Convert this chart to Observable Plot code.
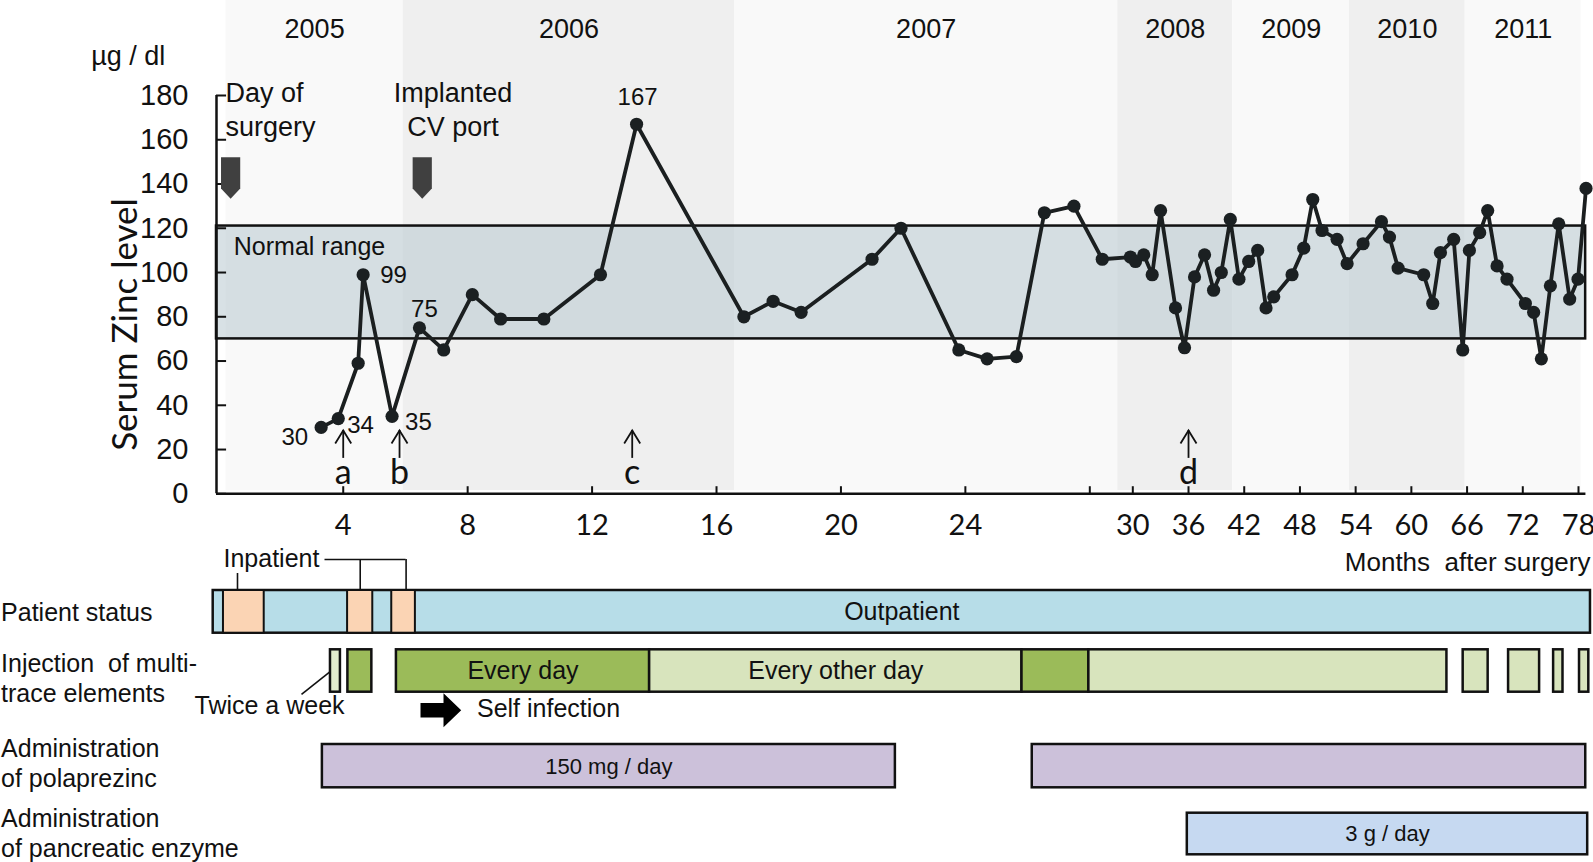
<!DOCTYPE html>
<html>
<head>
<meta charset="utf-8">
<script src="https://cdn.jsdelivr.net/npm/d3@7"></script>
<script src="https://cdn.jsdelivr.net/npm/@observablehq/plot@0.6"></script>
<style>
  html, body { margin: 0; padding: 0; background: #fff; }
  #chart { width: 1593px; }
  #chart svg { display: block; }
</style>
</head>
<body>
<div id="chart"></div>
<script>
// ---------------- data ----------------
// months after surgery of each serum zinc measurement (µg/dl)
const months = [3.29, 3.84, 4.48, 4.64, 5.57, 6.45, 7.23, 8.15, 9.06, 10.45, 12.27, 13.43,
  16.88, 17.82, 18.72, 21.0, 21.93, 23.79, 24.7, 25.64, 26.54, 27.49, 28.58, 29.89,
  30.29, 31.18, 32.09, 32.99, 34.6, 35.57, 36.65, 37.73, 38.7, 39.53, 40.5, 41.43,
  42.48, 43.45, 44.35, 45.18, 47.15, 48.41, 49.38, 50.38, 52.0, 53.08, 54.8, 56.78,
  57.64, 58.57, 61.33, 62.3, 63.13, 64.56, 65.53, 66.25, 67.36, 68.22, 69.23, 70.3,
  72.28, 73.17, 74.0, 74.97, 75.87, 77.05, 77.95, 78.81];
const zinc = [30, 34, 59, 99, 35, 75, 65, 90, 79, 79, 99, 167,
  80, 87, 82, 106, 120, 65, 61, 62, 127, 130, 106, 107,
  105, 108, 99, 128, 84, 66, 98, 108, 92, 100, 124, 97,
  105, 110, 84, 89, 99, 111, 133, 119, 115, 104, 113, 123,
  116, 102, 99, 86, 109, 115, 65, 110, 118, 128, 103, 97,
  86, 82, 61, 94, 122, 88, 97, 138];

const yearLabels = ["2005", "2006", "2007", "2008", "2009", "2010", "2011"];
const yearStart = [0.23, 5.93, 16.58, 29.30, 40.77, 53.34, 65.8];
const yearEnd   = [5.93, 16.58, 29.30, 40.77, 53.34, 65.8, 78.29];

const yTicks = [0, 20, 40, 60, 80, 100, 120, 140, 160, 180];
const xTicks = [4, 8, 12, 16, 20, 24, 28, 30, 36, 42, 48, 54, 60, 66, 72, 78];
const xTickLabels = ["4", "8", "12", "16", "20", "24", "", "30", "36", "42", "48", "54", "60", "66", "72", "78"];

const normalRange = [70, 121];

const eventMonths = [0.38, 6.54];
const eventLabels = ["Day of\nsurgery", "Implanted\nCV port"];

const arrowMonths = [4, 5.81, 13.29, 36];
const arrowLetters = ["a", "b", "c", "d"];

// timeline rows
const statusSpan = [-0.18, 79.29];
const inpatientStart = [0.15, 4.14, 5.56];
const inpatientEnd   = [1.46, 4.95, 6.32];

const injStart = [3.59, 4.15, 5.71, 13.85, 25.82, 27.97, 65.58, 70.47, 75.32, 78.11];
const injEnd   = [3.91, 4.92, 13.85, 25.82, 27.97, 63.83, 68.27, 73.81, 76.33, 79.11];
const injFreq  = ["twice", "daily", "daily", "alternate", "daily", "alternate", "alternate", "alternate", "alternate", "alternate"];
const injLabel = ["", "", "Every day", "Every other day", "", "", "", "", "", ""];

const polaStart = [3.33, 26.15];
const polaEnd   = [21.75, 78.78];
const polaLabel = ["150 mg / day", ""];

const enzStart = [35.87];
const enzEnd   = [78.99];
const enzLabel = ["3 g / day"];

// ---------------- layout & style ----------------
const SANS = "'Liberation Sans', Arial, Helvetica, sans-serif";
const ALT = "Lato, 'Open Sans', sans-serif";
const INK = "#111";
// broken month axis: piecewise linear (type must be explicit for a polylinear scale)
const X = {type: "linear", domain: [0, 28, 30, 78], range: [218.3, 1089.3, 1132.3, 1578]};
const px = d3.scaleLinear().domain(X.domain).range(X.range);
const mid = (a, b) => px.invert((px(a) + px(b)) / 2);
const style = {fontFamily: SANS, background: "transparent", overflow: "visible", color: INK};

const pts = months.map((m, i) => ({m, v: zinc[i]}));
const years = yearLabels.map((label, i) => ({label, start: yearStart[i], end: yearEnd[i]}));
const events = eventMonths.map((m, i) => ({m, label: eventLabels[i]}));

// symbols
const pentagon = {draw(ctx) {
  ctx.moveTo(-9.6, -20.8); ctx.lineTo(9.6, -20.8); ctx.lineTo(9.6, 10.5);
  ctx.lineTo(0, 20.8); ctx.lineTo(-9.6, 10.5); ctx.closePath();
}};
const chevron = {draw(ctx) {
  ctx.moveTo(-8, 13); ctx.lineTo(0, 0); ctx.lineTo(8, 13);
}};
const blockArrow = {draw(ctx) {
  ctx.moveTo(-20.4, -7.3); ctx.lineTo(2.6, -7.3); ctx.lineTo(2.6, -17); ctx.lineTo(20.3, 0);
  ctx.lineTo(2.6, 17); ctx.lineTo(2.6, 7.3); ctx.lineTo(-20.4, 7.3); ctx.closePath();
}};

const pl = (i, anchor, dx, dy) => ({...pts[i], anchor, dx, dy});
const pointLabels = [pl(0, "end", -13, 10), pl(1, "start", 9, 7), pl(3, "start", 17, 1),
                     pl(4, "start", 13, 6), pl(5, "middle", 5, -19), pl(11, "middle", 1, -27)];
const labelMarks = pointLabels.map(d => Plot.text([d], {x: "m", y: "v", text: x => String(x.v),
  textAnchor: d.anchor, dx: d.dx, dy: d.dy, fontSize: 24, fill: INK}));

// ---------------- main chart ----------------
const mainChart = Plot.plot({
  width: 1593, height: 538,
  marginLeft: 216, marginRight: 7, marginTop: 0, marginBottom: 48,
  x: {...X, axis: null},
  y: {domain: [0, 180], range: [493.3, 95], axis: null},
  style,
  marks: [
    Plot.rect(years, {x1: "start", x2: "end", fill: (d, i) => i % 2 ? "#efefef" : "#f9f9f9"}),
    Plot.rect([normalRange], {x1: -0.074, x2: 78.77, y1: d => d[0], y2: d => d[1],
      fill: "rgb(184,201,207)", fillOpacity: 0.55, stroke: INK, strokeWidth: 2.5}),
    Plot.text(years, {x: d => mid(d.start, d.end), y: 209.8, text: "label", fontSize: 27, fill: INK}),
    Plot.ruleX([-0.074], {x: d => d, y1: 0, y2: 180, stroke: INK, strokeWidth: 2.5}),
    Plot.ruleY(yTicks, {y: d => d, x1: -0.074, x2: 0.25, stroke: INK, strokeWidth: 2}),
    Plot.text(yTicks, {y: d => d, x: -0.975, text: d => String(d), textAnchor: "end", fontSize: 29, fill: INK}),
    Plot.ruleY([0], {y: d => d, x1: -0.074, x2: 78.8, stroke: INK, strokeWidth: 2.5}),
    Plot.ruleX(xTicks, {x: d => d, y1: 0, y2: 3.2, stroke: INK, strokeWidth: 2}),
    Plot.text(xTicks, {x: d => d, y: -14.3, text: (d, i) => xTickLabels[i], fontFamily: ALT, fontSize: 29, fill: INK}),
    Plot.dot(events, {x: "m", y: 142.7, symbol: pentagon, r: 10, fill: "#404040", stroke: "none"}),
    Plot.text(events.slice(0, 1), {x: 0.215, y: 174.2, text: "label", textAnchor: "start", lineHeight: 1.27, fontSize: 27, fill: INK}),
    Plot.text(events.slice(1), {x: 7.53, y: 174.2, text: "label", textAnchor: "middle", lineHeight: 1.27, fontSize: 27, fill: INK}),
    Plot.line(pts, {x: "m", y: "v", stroke: "#1b1f20", strokeWidth: 3.8, strokeLinejoin: "round"}),
    Plot.dot(pts, {x: "m", y: "v", r: 6.6, fill: "#1b2022", stroke: "none"}),
    ...labelMarks,
    Plot.ruleX(arrowMonths, {x: d => d, y1: 16, y2: 28.6, stroke: INK, strokeWidth: 1.8}),
    Plot.dot(arrowMonths, {x: d => d, y: 28.6, symbol: chevron, r: 8, fill: "none", stroke: INK, strokeWidth: 1.8}),
    Plot.text(arrowMonths, {x: d => d, y: 9.3, text: (d, i) => arrowLetters[i], fontFamily: ALT, fontSize: 34, fill: INK}),
    Plot.text(["Normal range"], {x: 0.482, y: 111.4, text: d => d, textAnchor: "start", fontSize: 25, fill: INK}),
    Plot.text(["µg / dl"], {x: -4.1, y: 197.6, text: d => d, textAnchor: "start", fontSize: 27, fill: INK}),
    Plot.text(["Serum Zinc level"], {x: -2.98, y: 76.5, text: d => d, rotate: -90, fontFamily: ALT, fontSize: 35, fill: INK})
  ]
});

// ---------------- timeline rows ----------------
function row(height, marginTop, marginBottom, marks) {
  return Plot.plot({
    width: 1593, height, marginLeft: 216, marginRight: 7, marginTop, marginBottom,
    x: {...X, axis: null}, y: {domain: [0, 1], axis: null}, style, marks
  });
}
const rowLabel = (t, y) => Plot.text([t], {x: -7.0, y, text: d => d, textAnchor: "start", lineHeight: 1.2, fontSize: 25, fill: INK});
const bars = (s, e, l) => s.map((x1, i) => ({x1, x2: e[i], label: l ? l[i] : ""}));

const inpatient = bars(inpatientStart, inpatientEnd);
const outpatient = [{x1: statusSpan[0], x2: statusSpan[1], label: "Outpatient"}];
const status = row(102, 52, 7.3, [
  Plot.barX(outpatient, {x1: "x1", x2: "x2", fill: "#b7dde8", stroke: INK, strokeWidth: 2.5}),
  Plot.barX(inpatient, {x1: "x1", x2: "x2", fill: "#fbd4b4", stroke: INK, strokeWidth: 2}),
  Plot.text(outpatient, {x: d => mid(d.x1, d.x2), y: 0.5, text: "label", fontSize: 25, fill: INK}),
  rowLabel("Patient status", 0.5),
  Plot.text(["Inpatient"], {x: 0.151, y: 1.749, text: d => d, textAnchor: "start", fontSize: 25, fill: INK}),
  Plot.ruleX([0.601], {x: d => d, y1: 1, y2: 1.398, stroke: INK, strokeWidth: 1.6}),
  Plot.ruleX([4.546, 6.021], {x: d => d, y1: 1, y2: 1.726, stroke: INK, strokeWidth: 1.6}),
  Plot.ruleY([1.726], {y: d => d, x1: 3.414, x2: 6.021, stroke: INK, strokeWidth: 1.6}),
  Plot.text(["Months\u00a0 after surgery"], {x: 79.29, y: 1.663, text: d => d, textAnchor: "end", fontSize: 26, fill: INK})
]);

const injColor = {twice: "#e3ecce", daily: "#9bbb59", alternate: "#d8e4bd"};
const injections = injStart.map((x1, i) => ({x1, x2: injEnd[i], freq: injFreq[i], label: injLabel[i]}));
const injection = row(95, 9.3, 43.3, [
  Plot.barX(injections, {x1: "x1", x2: "x2", fill: d => injColor[d.freq], stroke: INK, strokeWidth: 2.5}),
  Plot.text(injections.filter(d => d.label), {x: d => mid(d.x1, d.x2), y: 0.5, text: "label", fontSize: 25, fill: INK}),
  rowLabel("Injection\u00a0 of multi-\ntrace elements", 0.354),
  Plot.text(["Twice a week"], {x: -0.781, y: -0.33, text: d => d, textAnchor: "start", fontSize: 25, fill: INK}),
  Plot.link([0], {x1: 2.659, y1: -0.054, x2: 3.559, y2: 0.472, stroke: INK, strokeWidth: 1.6}),
  Plot.dot(["Self infection"], {x: 7.14, y: -0.425, symbol: blockArrow, r: 10, fill: "#000", stroke: "none"}),
  Plot.text(["Self infection"], {x: 8.30, y: -0.408, text: d => d, textAnchor: "start", fontSize: 25, fill: INK})
]);

const pola = bars(polaStart, polaEnd, polaLabel);
const polaprezinc = row(65, 9, 12.7, [
  Plot.barX(pola, {x1: "x1", x2: "x2", fill: "#ccc1da", stroke: INK, strokeWidth: 2.5}),
  Plot.text(pola.filter(d => d.label), {x: d => mid(d.x1, d.x2), y: 0.476, text: "label", fontSize: 22, fill: INK}),
  rowLabel("Administration\nof polaprezinc", 0.591)
]);

const enz = bars(enzStart, enzEnd, enzLabel);
const enzyme = row(62, 12.7, 7.7, [
  Plot.barX(enz, {x1: "x1", x2: "x2", fill: "#c6d9f1", stroke: INK, strokeWidth: 2.5}),
  Plot.text(enz.filter(d => d.label), {x: d => mid(d.x1, d.x2), y: 0.512, text: "label", fontSize: 22, fill: INK}),
  rowLabel("Administration\nof pancreatic enzyme", 0.536)
]);

const root = document.getElementById("chart");
[mainChart, status, injection, polaprezinc, enzyme].forEach(n => root.appendChild(n));
</script>
</body>
</html>
